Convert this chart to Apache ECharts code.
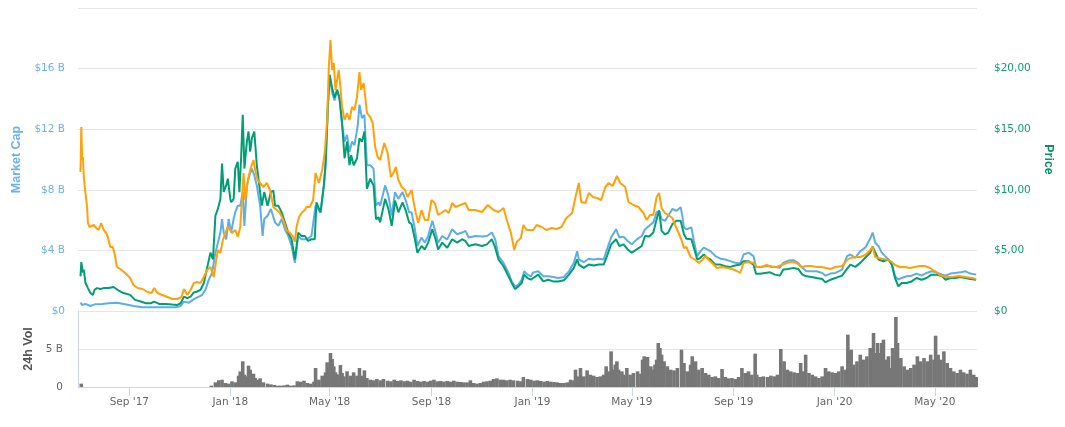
<!DOCTYPE html>
<html>
<head>
<meta charset="utf-8">
<script src="https://cdn.jsdelivr.net/npm/echarts@6/dist/echarts.min.js"></script>
<style>html,body{margin:0;padding:0;background:#fff}#c{width:1065px;height:427px}</style>
</head>
<body>
<div id="c"></div>
<script>
// Day numbers are days since 2017-07-01 (UTC)
const START_DATE = '2017-07-01';
const END_DAY = 1086;

const tickDates = ['2017-09-01','2018-01-01','2018-05-01','2018-09-01','2019-01-01','2019-05-01','2019-09-01','2020-01-01','2020-05-01'];
const tickLabels = ["Sep '17","Jan '18","May '18","Sep '18","Jan '19","May '19","Sep '19","Jan '20","May '20"];
const mcapTicks = [0, 4, 8, 12, 16, 20];
const priceTicks = [0, 5, 10, 15, 20, 25];

// Market cap, billions USD: [day, value]
const marketCap = [
[3,0.55],[5,0.40],[9,0.47],[15,0.33],[21,0.45],[29,0.47],[37,0.51],[47,0.55],[57,0.45],[67,0.33],[78,0.25],[88,0.25],[98,0.25],[108,0.25],[118,0.25],[124,0.33],[128,0.62],[134,0.55],[140,0.78],[146,0.95],[150,1.07],[154,1.40],[158,2.07],[162,2.51],[166,3.85],[169,4.51],[172,5.18],[174,6.07],[176,5.18],[179,4.73],[182,6.07],
[185,5.18],[188,6.07],[190,6.51],[193,6.95],[196,6.95],[199,7.85],[201,5.62],[204,8.29],[207,8.95],[210,9.40],[213,8.95],[216,8.29],[220,6.95],[223,4.95],[225,6.07],[229,6.29],[233,6.73],[238,5.85],[242,5.62],[246,6.07],[250,5.40],[254,4.95],[258,4.29],[262,3.18],[266,4.95],[270,4.73],[276,4.73],[282,4.95],[287,6.95],[293,6.51],[297,8.29],[299,9.62],[302,13.4],[304,15.5],[307,14.4],[310,13.9],[313,14.6],[316,13.9],[319,12.29],[322,11.18],[325,11.62],[328,10.51],[331,11.18],[334,10.95],[338,12.29],[340,13.62],[343,12.73],[346,12.95],[349,9.62],[353,9.62],[357,9.40],[360,6.95],[363,7.18],[365,6.95],
[371,8.29],[375,7.62],[379,6.29],[383,7.85],[387,7.40],[392,7.85],[396,7.29],[400,6.51],[403,6.51],[407,5.40],[410,4.29],[415,4.85],[419,4.51],[423,4.95],[428,5.95],[432,5.18],[435,4.51],[440,4.95],[446,4.73],[452,5.40],[458,5.07],[464,5.18],[468,5.29],[472,4.85],[480,4.95],[488,4.91],[494,4.95],[500,5.18],[504,4.73],[508,3.62],[514,3.18],[520,2.51],[524,1.95],[528,1.62],[532,1.73],[536,2.07],[539,2.62],[543,2.40],[547,2.29],
[550,2.55],[556,2.62],[562,2.29],[568,2.29],[574,2.25],[580,2.18],[587,2.25],[593,2.62],[599,3.18],[603,3.95],[605,3.40],[611,3.22],[617,3.45],[623,3.40],[629,3.45],[635,3.40],[639,4.07],[644,4.85],[650,5.40],[654,4.85],[659,4.91],[664,4.62],[669,4.40],[675,4.73],[681,4.95],[685,5.40],[690,5.62],[695,5.85],[699,6.51],[702,6.62],[705,6.07],[709,5.95],[713,6.29],[718,6.73],[723,6.62],[728,6.85],
[730,6.29],[732,5.51],[735,5.40],[741,5.51],[744,4.62],[748,3.62],[752,3.95],[756,4.18],[760,4.07],[764,3.95],[770,3.62],[776,3.45],[782,3.40],[788,3.29],[794,3.18],[800,3.13],[804,3.73],[810,3.85],[816,3.62],[819,2.91],[824,2.91],[830,2.95],[836,2.95],[842,2.91],[848,2.85],[852,3.18],[858,3.33],[864,3.35],[870,3.18],[875,2.85],[880,2.62],[886,2.62],[892,2.62],[899,2.51],[903,2.33],[909,2.47],
[915,2.51],[923,2.73],[929,3.62],[933,3.73],[939,3.51],[945,3.95],[951,4.18],[957,4.78],[960,5.18],[963,4.51],[967,4.29],[971,3.85],[975,3.62],[979,3.40],[983,3.18],[987,2.29],[991,2.07],[995,2.18],[1001,2.29],[1007,2.33],[1013,2.47],[1019,2.33],[1025,2.51],[1031,2.62],[1037,2.55],[1044,2.40],[1048,2.33],[1054,2.47],[1060,2.51],[1066,2.55],[1072,2.62],[1078,2.47],[1085,2.40]
];

// Price, USD: [day, value]
const priceUsd = [
[3,2.86],[4,4.03],[6,3.17],[7,3.42],[9,2.33],[12,1.89],[15,1.48],[18,1.33],[20,1.75],[23,1.89],[27,1.81],[31,1.89],[37,1.89],[43,1.98],[49,1.69],[55,1.48],[63,1.33],[69,0.92],[76,0.78],[82,0.64],[88,0.64],[92,0.78],[98,0.58],[106,0.58],[114,0.53],[120,0.50],[124,0.64],[128,1.19],[132,1.06],[136,1.19],[140,1.53],[144,1.61],[148,1.75],[152,2.31],[156,3.56],[160,4.81],[163,4.25],[166,7.86],[169,8.42],[172,9.25],[174,12.17],[176,9.83],[179,10.36],[181,10.92],[184,9.25],
[185,8.97],[188,9.25],[190,11.75],[193,12.31],[195,9.81],[197,12.58],[199,16.19],[201,11.75],[204,13.97],[206,14.81],[208,13.14],[210,14.25],[213,14.81],[216,12.03],[219,10.36],[222,8.69],[225,9.81],[229,8.69],[233,9.81],[236,9.94],[238,8.69],[242,8.69],[246,8.14],[250,7.31],[254,6.47],[258,5.92],[262,4.25],[266,6.47],[270,6.19],[274,6.19],[278,5.78],[282,5.92],[286,5.92],[288,8.97],[293,8.14],[297,10.36],[299,12.03],[302,17.3],[304,19.5],[307,18.4],[310,17.6],[313,18.25],[316,17.6],[319,15.5],[322,12.6],[325,13.97],[328,12.03],[330,12.86],[333,12.03],[337,12.58],[340,14.25],[343,13.97],[346,14.81],[349,10.08],[353,10.92],[357,10.36],[360,7.58],[363,7.72],[365,7.31],
[371,9.25],[375,8.42],[379,7.03],[383,9.11],[387,8.14],[392,8.97],[396,8.28],[400,7.31],[403,7.17],[407,5.92],[410,4.81],[415,5.36],[419,5.08],[423,5.64],[428,6.75],[432,5.92],[435,5.08],[440,5.64],[446,5.22],[452,5.92],[458,5.64],[464,5.92],[468,5.78],[472,5.36],[480,5.50],[488,5.36],[494,5.50],[500,5.92],[504,5.22],[508,4.25],[514,3.69],[520,2.86],[524,2.31],[528,1.81],[532,2.03],[536,2.31],[539,3.00],[543,2.72],[547,2.58],
[550,2.72],[556,3.00],[562,2.44],[568,2.58],[574,2.44],[580,2.44],[587,2.53],[593,3.00],[599,3.56],[603,4.25],[605,3.83],[611,3.56],[617,3.83],[623,3.75],[629,3.83],[635,3.83],[639,4.53],[644,5.50],[650,5.92],[654,5.36],[659,5.50],[664,5.08],[669,4.81],[675,5.08],[681,5.36],[685,6.19],[690,6.14],[695,6.47],[699,7.58],[702,8.28],[705,6.61],[709,6.33],[713,6.47],[718,7.17],[723,7.44],[728,7.44],
[730,6.89],[732,6.33],[735,5.97],[741,5.92],[744,5.22],[748,4.25],[752,4.39],[756,4.67],[760,4.39],[764,4.25],[770,3.83],[776,3.83],[782,3.69],[788,3.64],[794,3.75],[800,3.83],[804,4.11],[810,4.11],[816,3.83],[819,3.08],[824,3.08],[830,3.14],[836,3.19],[842,3.00],[848,2.92],[852,3.42],[858,3.47],[864,3.56],[870,3.47],[875,3.00],[880,2.86],[886,2.81],[892,2.72],[899,2.64],[903,2.36],[909,2.58],
[915,2.72],[923,2.92],[929,3.47],[933,3.83],[939,3.64],[945,3.97],[951,4.39],[957,4.81],[960,5.31],[963,4.86],[967,4.25],[973,4.11],[979,4.25],[983,3.83],[987,2.72],[991,2.03],[995,2.31],[1001,2.31],[1007,2.44],[1013,2.72],[1019,2.58],[1025,2.72],[1031,3.00],[1037,3.00],[1044,2.86],[1048,2.58],[1054,2.72],[1060,2.72],[1066,2.81],[1072,2.72],[1078,2.64],[1085,2.58]
];

// Price, BTC: [day, value]
const priceBtc = [
[3,0.00139],[4,0.00184],[5,0.00151],[6,0.00154],[7,0.00134],[9,0.00118],[11,0.00104],[12,0.00088],[14,0.00084],[16,0.00083],[19,0.00086],[22,0.00083],[25,0.00081],[28,0.00088],[31,0.00081],[34,0.00078],[36,0.00074],[39,0.00064],[42,0.00064],[44,0.00058],[47,0.00044],[51,0.00042],[57,0.00038],[63,0.00033],[67,0.00026],[72,0.00023],[78,0.00022],[84,0.00019],[89,0.00018],[92,0.00023],[96,0.00018],[102,0.00016],[108,0.00014],[114,0.00012],[120,0.00012],[125,0.00014],[128,0.00022],[132,0.00016],[136,0.00021],[140,0.00028],[144,0.00029],[148,0.00028],[152,0.00034],[156,0.00041],[160,0.00044],[164,0.00034],[167,0.00051],[169,0.00061],[172,0.00058],[175,0.00071],[178,0.00078],[181,0.00084],[184,0.00081],
[186,0.00078],[190,0.00081],[193,0.00074],[196,0.00084],[198,0.00111],[200,0.00138],[202,0.00111],[204,0.00124],[206,0.00134],[209,0.00144],[212,0.00151],[214,0.00141],[217,0.00131],[220,0.00128],[224,0.00124],[228,0.00128],[232,0.00121],[236,0.00104],[240,0.00101],[244,0.00098],[248,0.00091],[252,0.00081],[256,0.00078],[260,0.00074],[262,0.00069],[264,0.00084],[267,0.00094],[270,0.00098],[274,0.00101],[276,0.00104],[280,0.00104],[284,0.00111],[287,0.00138],[291,0.00128],[295,0.00141],[298,0.00158],[301,0.00191],[303,0.00244],[305,0.00271],[307,0.00241],[309,0.00248],[311,0.00221],[313,0.00231],[315,0.00241],[317,0.00224],[319,0.00204],[322,0.00191],[325,0.00198],[328,0.00191],[331,0.00204],[334,0.00201],[337,0.00214],[340,0.00239],[342,0.00221],[345,0.00228],[347,0.00214],[349,0.00198],[353,0.00194],[356,0.00188],[359,0.00164],[362,0.00154],[365,0.00151],
[370,0.00168],[374,0.00158],[378,0.00134],[381,0.00138],[384,0.00144],[387,0.00131],[391,0.00124],[395,0.00121],[398,0.00114],[403,0.00121],[405,0.00111],[408,0.00098],[411,0.00088],[415,0.00101],[419,0.00091],[423,0.00091],[427,0.00111],[431,0.00108],[435,0.00096],[439,0.00098],[444,0.00101],[448,0.00098],[452,0.00108],[456,0.00104],[462,0.00106],[468,0.00108],[472,0.00101],[480,0.00101],[488,0.00099],[495,0.00106],[502,0.00101],[508,0.00099],[514,0.00103],[518,0.00091],[523,0.00078],[527,0.00061],[530,0.00069],[535,0.00073],[538,0.00086],[542,0.00081],[547,0.00081],
[550,0.00081],[554,0.00086],[560,0.00084],[566,0.00081],[572,0.00083],[578,0.00082],[584,0.00084],[590,0.00093],[597,0.00098],[601,0.00114],[605,0.00128],[608,0.00109],[613,0.00108],[617,0.00118],[622,0.00114],[627,0.00113],[632,0.00111],[637,0.00124],[641,0.00128],[646,0.00125],[651,0.00135],[655,0.00128],[661,0.00124],[665,0.00109],[671,0.00106],[677,0.00104],[683,0.00098],[687,0.00091],[691,0.00096],[695,0.00096],[699,0.00114],[702,0.00118],[705,0.00103],[709,0.00098],[713,0.00096],[718,0.00093],[723,0.00083],[729,0.00071],
[732,0.00063],[735,0.00064],[740,0.00054],[746,0.00051],[750,0.00048],[754,0.00051],[758,0.00055],[762,0.00051],[766,0.00048],[772,0.00043],[778,0.00044],[784,0.00043],[790,0.00042],[796,0.00040],[800,0.00038],[804,0.00048],[810,0.00049],[816,0.00048],[820,0.00044],[826,0.00044],[832,0.00046],[838,0.00044],[844,0.00044],[850,0.00046],[856,0.00048],[862,0.00049],[868,0.00048],[874,0.00044],[880,0.00045],[886,0.00045],[892,0.00044],[898,0.00044],[904,0.00043],[909,0.00042],
[915,0.00044],[923,0.00045],[929,0.00051],[933,0.00053],[939,0.00054],[945,0.00054],[951,0.00056],[957,0.00061],[960,0.00064],[963,0.00054],[967,0.00053],[973,0.00052],[979,0.00051],[983,0.00049],[987,0.00046],[993,0.00044],[999,0.00044],[1005,0.00043],[1011,0.00044],[1017,0.00045],[1023,0.00045],[1029,0.00043],[1035,0.00040],[1041,0.00036],[1048,0.00034],[1056,0.00034],[1064,0.00035],[1072,0.00034],[1080,0.00033],[1085,0.00032]
];

// 24h volume, billions USD: [day, value]
const volume24h = [
[4,0.44],[161,0.18],[166,0.61],[170,0.88],[174,0.96],[178,0.53],[182,0.44],[186,0.75],[190,0.61],[194,1.49],[196,2.06],[199,3.38],[201,1.62],[204,1.40],[206,2.81],[208,2.28],[212,1.75],[214,1.18],[217,0.96],[220,1.14],[224,0.61],[229,0.44],[233,0.35],[237,0.26],[241,0.18],[245,0.18],[249,0.22],[253,0.31],[257,0.18],[261,0.22],[265,0.75],[269,0.70],[273,0.83],[277,0.53],[281,0.44],[285,0.70],[287,2.50],[291,0.96],[295,1.49],[299,1.93],[301,3.25],[303,2.28],[305,4.47],[307,3.68],[309,2.72],[311,1.93],[313,1.67],[315,1.40],[317,2.89],[319,1.84],[321,1.40],[325,2.06],[329,1.49],[333,1.93],[337,1.49],[340,2.50],[343,1.49],[346,2.19],[349,1.18],[353,0.96],[357,0.88],[361,1.05],[365,0.88],[369,1.05],[374,0.83],[378,0.75],[382,0.96],[386,0.79],[390,0.88],[394,0.75],[398,0.83],[402,0.70],[406,0.96],[410,0.79],[414,0.70],[418,0.79],[422,0.70],[426,0.83],[430,0.96],[434,0.75],[438,0.79],[442,0.70],[446,0.79],[450,0.70],[454,0.83],[458,0.70],[462,0.66],[466,0.61],[470,0.61],[474,0.88],[478,0.53],[482,0.44],[486,0.53],[490,0.70],[494,0.75],[498,0.83],[502,1.05],[506,1.14],[510,0.96],[514,0.96],[518,0.88],[522,0.96],[526,0.88],[531,0.83],[535,0.75],[538,1.32],[543,1.05],[547,0.96],[551,0.83],[555,0.88],[559,0.79],
[563,0.70],[567,0.79],[571,0.70],[575,0.66],[579,0.61],[583,0.53],[587,0.53],[591,0.61],[595,0.96],[599,0.88],[601,2.28],[604,1.40],[607,2.50],[611,1.40],[615,2.19],[619,1.62],[623,1.49],[627,1.32],[631,1.40],[635,1.62],[638,2.72],[641,2.06],[644,4.69],[646,2.28],[649,2.94],[651,3.38],[653,2.28],[657,2.06],[659,1.62],[663,2.50],[667,1.62],[671,1.84],[676,2.06],[680,1.75],[682,3.60],[684,4.04],[688,3.95],[692,2.72],[694,2.28],[697,2.94],[699,3.60],[701,5.79],[703,5.13],[705,4.25],[708,3.38],[712,2.72],[716,2.28],[720,2.19],[724,2.50],[729,4.91],[732,3.16],[736,2.06],[740,2.94],[742,4.04],[746,3.38],[750,2.28],[754,2.50],[758,1.84],[762,1.62],[766,1.32],[770,1.40],[774,1.18],[778,2.37],[782,1.32],[786,1.14],[790,1.18],[794,1.05],[798,1.32],[802,2.50],[806,1.84],[810,2.06],[814,1.62],[818,4.39],[820,1.62],[824,1.32],[828,1.40],[833,1.32],[837,1.49],[841,1.40],[845,1.62],[849,5.00],[853,3.38],[857,2.28],[861,2.06],[865,1.93],[869,1.84],[873,3.16],[876,2.06],[879,4.25],[883,1.84],[887,1.62],[891,1.40],[895,1.18],[899,1.40],[903,2.50],[907,2.06],[911,1.93],[915,1.84],[919,2.06],[923,2.72],[927,2.28],[930,6.89],[932,4.69],[934,4.91],[937,2.94],[941,3.38],[945,4.25],[949,3.60],[953,4.04],[957,5.13],[961,7.11],[963,4.47],[966,5.79],[968,4.47],[971,5.79],[973,6.23],[976,3.60],[979,4.04],[982,2.50],[984,5.13],[986,3.60],[988,9.21],[990,5.79],[994,3.82],[998,2.72],[1002,2.28],[1006,2.50],[1010,2.94],[1014,4.04],[1018,3.38],[1022,3.82],[1026,3.38],[1030,4.25],[1034,3.60],[1036,6.75],[1039,4.25],[1042,3.60],[1046,4.69],[1050,3.16],[1054,2.50],[1058,2.06],[1062,1.84],[1066,2.28],[1070,1.93],[1074,1.75],[1078,2.28],[1082,1.62],[1085,1.32]
];

const DAY_MS = 86400000;
const T0 = Date.parse(START_DATE + 'T00:00:00Z');
const tickDays = tickDates.map(s => Math.round((Date.parse(s + 'T00:00:00Z') - T0) / DAY_MS));

const FONT = 'DejaVu Sans';
const chart = echarts.init(document.getElementById('c'), null, {renderer: 'canvas'});

const option = {
  animation: false,
  backgroundColor: '#ffffff',
  textStyle: {fontFamily: FONT},
  grid: [
    {left: 78, right: 88, top: 8, height: 303},
    {left: 78, right: 88, top: 311, height: 76}
  ],
  xAxis: [
    {type: 'value', gridIndex: 0, min: 0, max: END_DAY, show: false, splitLine: {show: false}},
    {
      type: 'value', gridIndex: 1, min: 0, max: END_DAY,
      axisLine: {show: true, lineStyle: {color: '#ccd6eb', width: 1}},
      axisTick: {show: true, customValues: tickDays, length: 9, lineStyle: {color: '#ccd6eb'}},
      axisLabel: {
        customValues: tickDays, color: '#666666', fontSize: 10.5, fontFamily: FONT, margin: 10,
        formatter: v => {
          const i = tickDays.indexOf(Math.round(v));
          return i >= 0 ? tickLabels[i] : '';
        }
      },
      splitLine: {show: false}
    }
  ],
  yAxis: [
    {
      type: 'value', gridIndex: 0, position: 'left', min: mcapTicks[0], max: mcapTicks[mcapTicks.length-1], interval: 4,
      axisLine: {show: false}, axisTick: {show: false},
      axisLabel: {color: '#6cb2eb', fontSize: 10.5, fontFamily: FONT, margin: 13, showMaxLabel: false,
        formatter: v => v === 0 ? '$0' : '$' + v + ' B'},
      splitLine: {lineStyle: {color: '#e6e6e6', width: 1}},
      name: 'Market Cap', nameLocation: 'middle', nameGap: 52, nameRotate: 90,
      nameTextStyle: {color: '#6cb2eb', fontSize: 12.5, fontWeight: 'bold', fontFamily: 'Liberation Sans'}
    },
    {
      type: 'value', gridIndex: 0, position: 'right', min: priceTicks[0], max: priceTicks[priceTicks.length-1], interval: 5,
      axisLine: {show: false}, axisTick: {show: false},
      axisLabel: {color: '#0a9c72', fontSize: 10.5, fontFamily: FONT, margin: 17, showMaxLabel: false,
        formatter: v => v === 0 ? '$0' : '$' + v + ',00'},
      splitLine: {show: false},
      name: 'Price', nameLocation: 'middle', nameGap: 60, nameRotate: -90,
      nameTextStyle: {color: '#0a8f68', fontSize: 12.5, fontWeight: 'bold', fontFamily: 'Liberation Sans'}
    },
    {type: 'value', gridIndex: 0, min: 0, max: 0.00303, show: false, splitLine: {show: false}},
    {
      type: 'value', gridIndex: 1, position: 'left', min: 0, max: 10, interval: 5,
      axisLine: {show: true, lineStyle: {color: '#ccd6eb'}}, axisTick: {show: false},
      axisLabel: {color: '#666666', fontSize: 10.5, fontFamily: FONT, margin: 15, showMaxLabel: false,
        formatter: v => v === 0 ? '0' : v + ' B'},
      splitLine: {lineStyle: {color: '#e6e6e6', width: 1}},
      name: '24h Vol', nameLocation: 'middle', nameGap: 40, nameRotate: 90,
      nameTextStyle: {color: '#555555', fontSize: 12.5, fontWeight: 'bold', fontFamily: 'Liberation Sans'}
    }
  ],
  series: [
    {name: 'Market Cap', type: 'line', xAxisIndex: 0, yAxisIndex: 0, data: marketCap,
      showSymbol: false, lineStyle: {color: '#5daee6', width: 2}, itemStyle: {color: '#5daee6'}, z: 2},
    {name: 'Price (USD)', type: 'line', xAxisIndex: 0, yAxisIndex: 1, data: priceUsd,
      showSymbol: false, lineStyle: {color: '#009e73', width: 2}, itemStyle: {color: '#009e73'}, z: 3},
    {name: 'Price (BTC)', type: 'line', xAxisIndex: 0, yAxisIndex: 2, data: priceBtc,
      showSymbol: false, lineStyle: {color: '#ffa10a', width: 2}, itemStyle: {color: '#ffa10a'}, z: 4},
    {name: '24h Vol', type: 'bar', xAxisIndex: 1, yAxisIndex: 3, data: volume24h,
      barWidth: 3.6, itemStyle: {color: '#777777'}, z: 2}
  ]
};
chart.setOption(option);
</script>
</body>
</html>
